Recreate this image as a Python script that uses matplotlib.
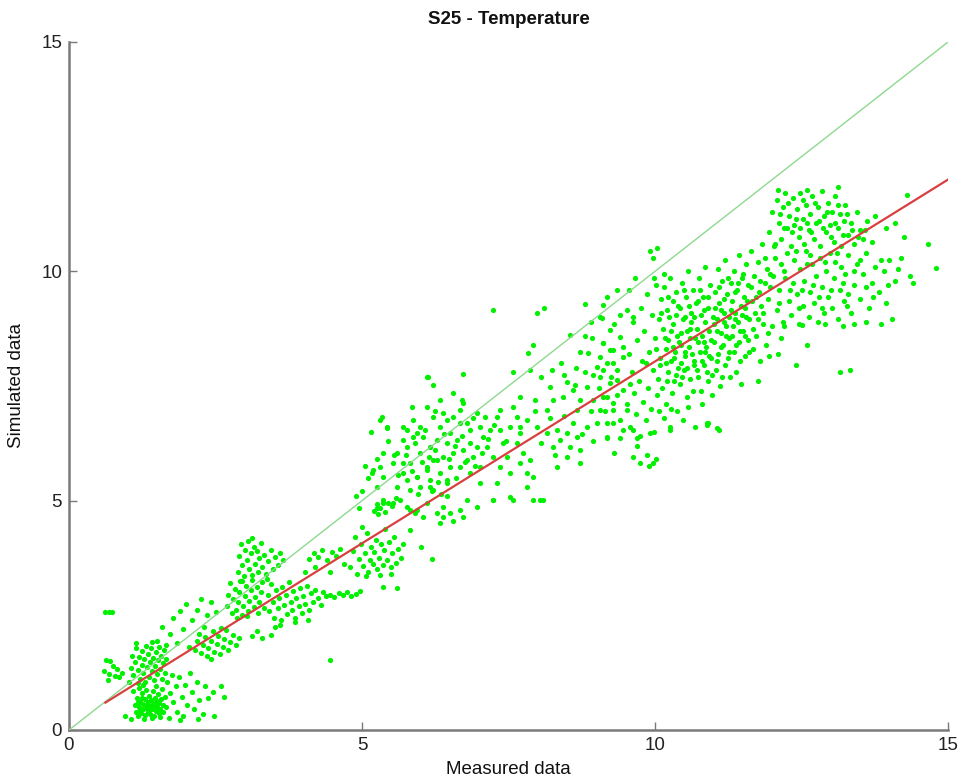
import matplotlib
matplotlib.use("Agg")
import matplotlib.pyplot as plt
import numpy as np

plt.rcParams['font.family'] = ['Liberation Sans', 'DejaVu Sans']

# Measured vs simulated temperature pairs, grouped by region of the range
pts_low = [
    (0.62, 2.58), (0.68, 2.58), (0.74, 2.57), (0.63, 1.53), (0.70, 1.50), (0.75, 1.40),
    (0.60, 1.28), (0.68, 1.22), (0.78, 1.18), (0.86, 1.15), (0.90, 1.25), (0.66, 1.08), (0.82, 1.32),
    (1.02, 1.05), (1.05, 1.35), (1.08, 1.62), (1.10, 1.20), (1.12, 1.48), (1.15, 1.78), (1.17, 1.02),
    (1.18, 1.30), (1.20, 1.60), (1.22, 1.12), (1.24, 1.42), (1.25, 1.72), (1.27, 1.25), (1.28, 1.55),
    (1.30, 1.05), (1.31, 1.83), (1.33, 1.38), (1.35, 1.65), (1.36, 1.15), (1.38, 1.48), (1.40, 1.78),
    (1.41, 1.28), (1.43, 1.58), (1.45, 1.08), (1.46, 1.40), (1.48, 1.70), (1.50, 1.22), (1.52, 1.52),
    (1.53, 1.82), (1.55, 1.32), (1.57, 1.62), (1.58, 1.12), (1.60, 1.45), (1.62, 1.75), (1.64, 1.25),
    (1.14, 1.90), (1.42, 1.92), (1.26, 0.98), (1.48, 0.96), (1.66, 1.55),
    (1.10, 0.85), (1.12, 0.55), (1.14, 0.40), (1.16, 0.70), (1.18, 0.30), (1.19, 0.92), (1.20, 0.50),
    (1.22, 0.62), (1.23, 0.38), (1.25, 0.80), (1.26, 0.45), (1.27, 0.57), (1.29, 0.33), (1.30, 0.68),
    (1.31, 0.88), (1.32, 0.48), (1.34, 0.40), (1.35, 0.60), (1.36, 0.75), (1.38, 0.52), (1.39, 0.35),
    (1.40, 0.66), (1.41, 0.45), (1.43, 0.84), (1.44, 0.56), (1.45, 0.30), (1.46, 0.70), (1.48, 0.42),
    (1.49, 0.62), (1.50, 0.50), (1.52, 0.78), (1.53, 0.36), (1.54, 0.58), (1.56, 0.46), (1.57, 0.68),
    (1.58, 0.90), (1.60, 0.40), (1.61, 0.55), (1.63, 0.72), (1.65, 0.50), (1.28, 0.24), (1.42, 0.26),
    (1.56, 0.28), (1.17, 0.62), (1.33, 0.54), (1.47, 0.52), (1.37, 0.44), (1.24, 0.70), (1.51, 0.64),
    (1.21, 0.44),
    (1.68, 1.05), (1.72, 0.80), (1.75, 1.20), (1.78, 0.62), (1.82, 0.95), (1.85, 0.40), (1.88, 1.15),
    (1.92, 0.72), (1.95, 0.30), (1.98, 0.98), (2.02, 0.55), (2.06, 1.25), (2.10, 0.82), (2.14, 0.45),
    (2.18, 1.05), (2.22, 0.65), (2.28, 0.35), (2.32, 0.95), (2.38, 0.70), (2.45, 0.82), (2.48, 0.30),
    (1.90, 0.22), (2.20, 0.25), (1.70, 0.26), (1.05, 0.24), (0.95, 0.30), (2.60, 0.95), (2.65, 0.72),
    (1.50, 1.95), (1.58, 2.25), (1.65, 1.85), (1.72, 2.10), (1.78, 2.45), (1.85, 1.90), (1.90, 2.60),
    (1.95, 2.20), (2.00, 2.75), (2.05, 1.82), (2.10, 2.40), (2.18, 2.62), (2.25, 2.85), (2.35, 2.50),
    (2.42, 2.78), (2.50, 2.58),
    (2.15, 1.75), (2.18, 1.95), (2.22, 2.10), (2.25, 1.68), (2.28, 1.85), (2.32, 2.02), (2.35, 1.62),
    (2.38, 1.78), (2.42, 1.95), (2.45, 2.15), (2.48, 1.70), (2.52, 1.88), (2.55, 2.05), (2.58, 1.65),
    (2.62, 1.80), (2.65, 1.98), (2.68, 2.18), (2.72, 1.75), (2.75, 1.92), (2.80, 2.08), (2.85, 1.85),
    (2.90, 2.00), (2.42, 1.55), (2.60, 2.22), (2.30, 2.25),
    (3.12, 2.05), (3.30, 2.00), (3.45, 2.08), (3.20, 2.15),
]

pts_mid1 = [
    (2.70, 2.70), (2.72, 2.95), (2.75, 3.20), (2.78, 2.55), (2.80, 2.85), (2.83, 3.08), (2.85, 2.62),
    (2.88, 2.78), (2.90, 3.00), (2.92, 3.25), (2.95, 2.50), (2.97, 2.70), (3.00, 2.92), (3.02, 3.15),
    (3.05, 2.60), (3.08, 2.82), (3.10, 3.05), (3.12, 3.28), (3.15, 2.68), (3.18, 2.90), (3.20, 3.12),
    (3.22, 2.55), (3.25, 2.78), (3.28, 3.00), (3.30, 3.22), (3.33, 2.65), (2.87, 2.45), (3.03, 2.48),
    (2.88, 3.45), (2.90, 3.80), (2.93, 4.05), (2.96, 3.60), (2.98, 3.35), (3.00, 3.92), (3.03, 3.70),
    (3.05, 4.12), (3.08, 3.50), (3.10, 3.85), (3.13, 3.38), (3.15, 4.00), (3.18, 3.62), (3.20, 3.90),
    (3.23, 3.45), (3.25, 3.75), (3.28, 4.08), (3.30, 3.55), (3.33, 3.82), (3.36, 3.40), (3.40, 3.68),
    (3.44, 3.92), (3.48, 3.52), (3.52, 3.78), (3.56, 3.60), (3.60, 3.85), (3.65, 3.70), (3.12, 4.18),
    (2.95, 3.25), (3.38, 3.30),
    (3.40, 2.95), (3.42, 2.60), (3.45, 3.18), (3.48, 2.78), (3.50, 2.45), (3.53, 3.05), (3.56, 2.65),
    (3.58, 2.88), (3.62, 2.40), (3.64, 3.12), (3.67, 2.72), (3.70, 2.95), (3.72, 2.52), (3.75, 3.22),
    (3.78, 2.80), (3.80, 2.62), (3.83, 3.02), (3.86, 2.45), (3.88, 2.88), (3.92, 2.70), (3.95, 3.10),
    (3.98, 2.55), (4.00, 2.92), (4.03, 2.75), (4.06, 3.15), (4.10, 2.62), (4.13, 2.98), (4.17, 2.80),
    (4.20, 3.05), (4.25, 2.88), (4.30, 2.72), (4.34, 3.00), (3.60, 2.30), (3.85, 2.35), (4.08, 2.40),
    (3.52, 2.25),
    (4.38, 2.92), (4.45, 2.95), (4.52, 2.90), (4.60, 2.98), (4.68, 2.94), (4.75, 3.00), (4.82, 2.92),
    (4.90, 2.97), (4.96, 3.02), (4.10, 3.72), (4.18, 3.85), (4.25, 3.78), (4.32, 3.92), (4.40, 3.70),
    (4.48, 3.88), (4.55, 3.80), (4.62, 3.95), (4.20, 3.55), (4.45, 3.45), (4.70, 3.62), (4.02, 3.45),
    (4.45, 1.53),
    (4.80, 3.55), (4.84, 3.90), (4.88, 4.20), (4.92, 3.40), (4.95, 3.72), (4.98, 4.05), (5.02, 3.58),
    (5.05, 3.85), (5.08, 4.30), (5.10, 3.45), (5.13, 3.70), (5.16, 4.00), (5.18, 3.62), (5.21, 3.88),
    (5.24, 4.15), (5.26, 3.50), (5.29, 3.75), (5.32, 4.05), (5.35, 3.60), (5.38, 3.92), (5.40, 4.38),
    (5.43, 3.70), (5.46, 4.10), (5.49, 3.55), (5.52, 3.85), (5.55, 4.20), (5.58, 3.65), (5.62, 3.95),
    (5.66, 3.75), (5.70, 4.05), (5.06, 3.35), (5.30, 3.38), (5.50, 3.40), (5.00, 4.42),
    (5.36, 3.12), (5.60, 3.10), (5.82, 4.36), (6.00, 4.00), (6.20, 3.72),
    (5.20, 4.78), (5.25, 4.92), (5.30, 4.85), (5.35, 5.02), (5.40, 4.75), (5.45, 4.95), (5.52, 4.88),
    (5.58, 5.05), (5.28, 4.70),
]

pts_mid2 = [
    (5.00, 5.20), (5.10, 5.50), (5.25, 5.90), (5.31, 6.76), (5.45, 6.30), (5.55, 6.00), (4.90, 5.10),
    (5.05, 5.75), (5.15, 6.50), (4.95, 4.85), (5.35, 6.05), (5.34, 6.82), (5.43, 6.58), (5.17, 5.60),
    (5.31, 5.73), (5.26, 5.30), (5.19, 5.67), (5.36, 5.52), (5.53, 5.82), (5.60, 6.04), (5.70, 5.82),
    (5.70, 6.32), (5.43, 6.61), (5.77, 6.54), (5.94, 6.47), (5.77, 5.45), (5.94, 5.52), (5.60, 5.30),
    (6.11, 5.67), (6.28, 5.89), (6.16, 5.30), (6.45, 5.45), (5.53, 4.94), (5.36, 4.94), (5.26, 4.83),
    (5.70, 6.61), (5.87, 6.39), (5.77, 6.17), (5.99, 6.04), (5.82, 5.82), (5.70, 5.60), (5.94, 5.52),
    (6.11, 5.73), (6.21, 5.89), (6.16, 6.17), (6.04, 6.39), (6.28, 6.32), (6.33, 6.61), (6.45, 6.76),
    (6.38, 6.91), (6.55, 6.82), (6.67, 6.98), (6.67, 6.69), (6.79, 6.69), (6.84, 6.54), (6.50, 6.47),
    (6.62, 6.32), (6.45, 6.26), (6.55, 6.04), (6.72, 6.10), (6.38, 5.95), (6.79, 5.89), (6.89, 5.95),
    (6.50, 5.73), (6.67, 5.73), (6.84, 5.60), (6.33, 5.60), (6.16, 5.45), (5.99, 5.30), (5.82, 5.23),
    (6.21, 5.23), (6.45, 5.38), (7.01, 5.73), (6.96, 6.17), (7.07, 6.39), (5.99, 6.61), (5.87, 6.76),
    (6.21, 6.82), (6.11, 7.04), (6.72, 7.13), (6.96, 6.91),
    (6.13, 7.70), (6.72, 7.76), (6.21, 7.52), (5.85, 7.04), (6.33, 7.19), (6.71, 7.19), (6.11, 7.70),
    (5.65, 5.01), (5.77, 4.86), (5.94, 4.79), (6.11, 4.94), (6.28, 4.73), (6.04, 4.64), (6.38, 4.64),
    (6.50, 4.73), (6.38, 4.86), (6.72, 4.64), (6.67, 4.79), (6.96, 4.86), (6.79, 5.01), (6.33, 4.51),
    (6.55, 4.55), (5.82, 4.80), (5.90, 4.73), (6.20, 5.20), (6.45, 5.10),
    (7.01, 6.61), (7.10, 6.82), (7.13, 6.17), (7.01, 5.38), (7.24, 5.01),
    (5.62, 5.55), (5.75, 6.00), (5.85, 5.65), (5.90, 6.25), (6.02, 5.85), (6.08, 6.55), (6.15, 5.95),
    (6.25, 6.10), (6.30, 5.40), (6.40, 6.45), (6.48, 5.90), (6.58, 6.20), (6.60, 5.50), (6.70, 6.40),
    (6.75, 5.85), (6.85, 6.25), (6.92, 5.75), (7.05, 6.05), (7.15, 6.35), (7.25, 6.65), (6.25, 6.95),
    (6.55, 7.35), (5.95, 5.15), (6.35, 5.15), (6.90, 6.80), (7.40, 6.25),
]

pts_mid3 = [
    (7.24, 9.16), (7.99, 9.09), (8.11, 9.20), (8.81, 9.29), (9.11, 9.27), (9.09, 8.98),
    (7.92, 8.39), (7.83, 8.22), (7.87, 7.85), (7.58, 7.80), (8.55, 8.61), (8.92, 8.55), (8.72, 8.24),
    (8.86, 8.22), (9.11, 8.44), (9.23, 8.28), (9.06, 8.13), (8.50, 7.59), (8.63, 7.52), (8.84, 7.48),
    (9.01, 7.91), (9.11, 7.85), (9.28, 8.00), (9.35, 7.63), (8.81, 7.80), (8.60, 7.41), (8.43, 7.26),
    (8.72, 7.19), (8.94, 7.19), (9.18, 7.26), (9.06, 6.98), (9.28, 6.98), (8.67, 6.98), (8.21, 7.48),
    (8.26, 7.19), (8.16, 6.98), (7.70, 7.26), (7.58, 7.04), (7.64, 6.82), (7.81, 6.76), (7.36, 6.98),
    (7.30, 6.82), (7.18, 6.54), (7.36, 6.54), (7.53, 6.61), (7.70, 6.47), (7.99, 6.61), (8.16, 6.47),
    (8.33, 6.54), (8.50, 6.47), (8.67, 6.39), (8.84, 6.61), (9.01, 6.69), (9.18, 6.39), (9.28, 6.69),
    (8.38, 6.32), (8.55, 6.17), (8.72, 6.10), (8.26, 6.17), (8.50, 5.95), (8.72, 5.82), (8.33, 5.73),
    (7.64, 6.26), (7.75, 6.04), (7.70, 5.82), (7.87, 5.89), (7.53, 5.60), (7.36, 5.73), (7.47, 5.95),
    (7.24, 5.95), (7.92, 5.52), (7.81, 5.60), (7.92, 5.01), (8.04, 5.01), (8.09, 5.01), (7.58, 5.01),
    (7.53, 5.08), (7.81, 5.30), (7.30, 5.38), (7.24, 5.01),
    (9.18, 9.44), (9.35, 9.59), (9.52, 9.16), (9.06, 9.00), (9.23, 8.72), (9.40, 8.57), (9.62, 9.00),
    (9.11, 8.44), (9.28, 8.28), (9.45, 8.13), (9.18, 8.00), (9.35, 7.85), (9.06, 7.70), (9.23, 7.56),
    (9.45, 7.41), (9.11, 7.26), (9.28, 7.13), (9.52, 6.98), (9.18, 6.69), (9.40, 6.76), (9.62, 6.54),
    (9.18, 6.37), (9.40, 6.37), (9.69, 6.37), (9.91, 6.47), (9.74, 5.82), (9.97, 5.82), (9.86, 6.00),
    (10.26, 6.54), (10.89, 6.69), (11.06, 6.58), (8.90, 8.90), (8.40, 8.00), (8.05, 7.70), (7.95, 7.20),
    (8.05, 6.25), (8.20, 6.80), (8.30, 6.00), (8.45, 6.85), (8.60, 6.70), (8.75, 6.45), (8.90, 6.95),
    (8.95, 6.30), (9.05, 7.45), (9.15, 6.95), (9.25, 7.70), (9.35, 7.30), (9.45, 8.35), (9.40, 9.05),
    (9.30, 8.85), (8.80, 8.60), (8.65, 7.90), (8.95, 7.75), (8.45, 7.75), (8.25, 7.85), (7.95, 6.95),
    (7.70, 6.60), (7.45, 6.30), (9.45, 6.55), (9.30, 6.05),
]

pts_core = [
    (9.52, 7.10), (9.55, 8.20), (9.58, 6.60), (9.60, 7.80), (9.62, 8.90), (9.63, 5.95), (9.65, 7.35),
    (9.68, 6.90), (9.70, 8.50), (9.72, 7.60), (9.74, 6.40), (9.76, 9.20), (9.78, 8.05), (9.80, 7.15),
    (9.55, 9.60), (9.66, 9.85), (9.58, 7.55), (9.70, 6.20),
    (9.82, 8.70), (9.84, 6.75), (9.86, 9.50), (9.88, 7.45), (9.90, 5.75), (9.90, 8.25), (9.92, 10.45),
    (9.93, 7.00), (9.95, 9.05), (9.96, 10.30), (9.97, 7.85), (9.99, 6.50), (10.00, 8.55), (10.01, 5.90),
    (10.02, 9.70), (10.03, 10.50), (10.04, 7.30), (10.06, 8.95), (10.07, 6.95), (10.08, 8.10),
    (10.10, 9.40), (9.85, 8.00), (9.98, 9.85), (10.05, 7.65),
    (10.12, 7.45), (10.13, 8.75), (10.15, 6.80), (10.16, 9.65), (10.18, 8.30), (10.19, 7.10),
    (10.20, 9.15), (10.22, 7.80), (10.23, 8.50), (10.25, 6.60), (10.26, 9.85), (10.27, 8.05),
    (10.29, 7.35), (10.30, 9.35), (10.31, 8.85), (10.33, 7.60), (10.34, 8.25), (10.36, 9.55),
    (10.37, 6.95), (10.38, 8.60), (10.40, 7.90), (10.15, 9.95), (10.24, 9.00), (10.35, 9.05),
    (10.28, 7.00), (10.18, 8.00),
    (10.42, 9.20), (10.43, 7.55), (10.44, 8.40), (10.46, 9.75), (10.47, 6.75), (10.48, 8.95),
    (10.50, 7.85), (10.51, 8.15), (10.53, 9.45), (10.54, 7.25), (10.55, 8.70), (10.57, 10.00),
    (10.58, 8.35), (10.60, 7.65), (10.61, 9.10), (10.62, 8.90), (10.64, 7.40), (10.65, 9.60),
    (10.66, 8.05), (10.68, 8.55), (10.69, 6.60), (10.70, 9.30), (10.45, 8.00), (10.52, 9.00),
    (10.59, 8.55), (10.67, 7.95), (10.56, 7.05),
    (10.72, 8.75), (10.73, 7.70), (10.75, 9.85), (10.76, 8.25), (10.78, 9.05), (10.79, 7.40),
    (10.80, 8.60), (10.82, 9.45), (10.83, 7.95), (10.85, 8.90), (10.86, 10.10), (10.87, 8.35),
    (10.89, 6.65), (10.90, 9.20), (10.91, 7.60), (10.93, 8.70), (10.94, 9.70), (10.96, 8.10),
    (10.97, 7.30), (10.99, 9.00), (10.74, 9.35), (10.84, 8.45), (10.92, 8.15), (10.81, 7.10),
    (11.01, 8.45), (11.02, 9.55), (11.04, 7.85), (11.05, 8.95), (11.07, 10.05), (11.08, 8.20),
    (11.10, 9.30), (11.11, 7.50), (11.13, 8.65), (11.14, 9.80), (11.16, 8.40), (11.17, 9.10),
    (11.19, 7.95), (11.20, 10.25), (11.22, 8.80), (11.23, 9.50), (11.25, 8.10), (11.26, 9.00),
    (11.28, 7.70), (11.29, 9.75), (11.06, 8.70), (11.18, 8.90), (11.27, 8.55), (11.12, 9.15),
    (11.31, 8.60), (11.32, 9.35), (11.34, 10.00), (11.35, 8.25), (11.37, 9.10), (11.38, 7.80),
    (11.40, 9.60), (11.41, 8.90), (11.43, 10.35), (11.44, 8.45), (11.46, 9.25), (11.47, 7.55),
    (11.49, 9.85), (11.50, 8.70), (11.52, 9.45), (11.53, 8.15), (11.55, 10.15), (11.56, 9.00),
    (11.58, 8.50), (11.59, 9.70), (11.36, 8.95), (11.45, 8.70), (11.54, 9.20),
    (11.61, 8.95), (11.63, 10.45), (11.65, 9.35), (11.67, 8.30), (11.69, 9.90), (11.71, 9.10),
    (11.73, 8.60), (11.75, 10.20), (11.77, 9.55), (11.79, 8.05), (11.81, 9.25), (11.83, 10.60),
    (11.85, 8.85), (11.87, 9.75), (11.89, 8.40), (11.91, 10.05), (11.93, 9.40), (11.95, 8.15),
    (11.97, 9.95), (11.99, 8.80),
    (10.02, 8.30), (10.09, 7.95), (10.11, 9.10), (10.17, 8.55), (10.21, 7.60), (10.23, 9.45),
    (10.27, 8.70), (10.32, 8.10), (10.35, 7.75), (10.39, 9.25), (10.41, 8.45), (10.46, 7.70),
    (10.49, 9.60), (10.52, 8.25), (10.55, 7.90), (10.58, 9.25), (10.63, 8.20), (10.66, 9.00),
    (10.71, 7.85), (10.73, 8.45), (10.77, 9.60), (10.80, 8.05), (10.84, 9.15), (10.88, 7.80),
    (10.91, 9.45), (10.95, 8.50), (10.98, 7.75), (11.03, 9.20), (11.06, 8.05), (11.09, 9.65),
    (11.12, 8.35), (11.15, 7.70), (11.18, 9.40), (11.21, 8.60), (11.24, 9.85), (11.27, 8.25),
    (11.30, 9.15), (11.33, 8.80), (11.36, 9.55), (11.39, 8.40), (11.42, 9.75), (11.45, 8.05),
    (11.48, 9.05), (11.51, 9.95), (11.54, 8.60), (11.57, 9.35), (11.60, 8.25), (11.64, 9.65),
    (11.68, 8.75), (11.72, 9.45), (11.76, 8.95), (11.80, 9.80), (11.84, 9.10), (11.88, 10.30),
    (11.92, 8.65), (11.96, 9.65), (10.60, 8.75), (10.45, 8.65), (10.30, 8.35), (10.85, 8.25),
    (11.00, 8.85),
]

pts_high = [
    (11.95, 10.85), (12.00, 11.30), (12.05, 10.60), (12.08, 11.55), (12.12, 11.05), (12.15, 10.70),
    (12.18, 11.40), (12.22, 11.70), (12.25, 10.95), (12.28, 11.20), (12.32, 10.55), (12.35, 11.60),
    (12.38, 11.00), (12.42, 11.35), (12.45, 10.75), (12.48, 11.70), (12.52, 11.15), (12.55, 10.60),
    (12.58, 11.45), (12.62, 10.90), (12.65, 11.25), (12.68, 11.65), (12.72, 10.70), (12.75, 11.05),
    (12.78, 11.40), (12.82, 10.55), (12.85, 11.75), (12.88, 11.20), (12.92, 10.85), (12.95, 11.50),
    (12.98, 11.00), (13.02, 11.30), (13.05, 10.65), (13.08, 11.65), (13.12, 10.95), (13.15, 11.25),
    (13.18, 10.55), (13.22, 11.10), (13.25, 11.45), (13.30, 10.80), (13.35, 11.05), (13.40, 10.60),
    (13.45, 11.30), (13.50, 10.90), (13.55, 10.70), (13.62, 11.10), (13.70, 10.65), (12.10, 11.78),
    (12.60, 11.78), (13.12, 11.84),
    (12.02, 9.90), (12.05, 10.30), (12.08, 9.15), (12.12, 9.60), (12.15, 10.15), (12.18, 8.90),
    (12.22, 9.85), (12.25, 10.40), (12.28, 9.35), (12.32, 9.05), (12.35, 9.75), (12.38, 10.25),
    (12.42, 9.50), (12.45, 8.85), (12.48, 10.05), (12.52, 9.25), (12.55, 9.80), (12.58, 10.45),
    (12.62, 9.00), (12.65, 9.55), (12.68, 10.15), (12.72, 9.30), (12.75, 9.90), (12.78, 8.90),
    (12.82, 10.30), (12.85, 9.65), (12.88, 9.10), (12.92, 10.00), (12.95, 9.45), (12.98, 10.40),
    (13.02, 9.20), (13.05, 9.85), (13.08, 10.20), (13.12, 8.95), (13.15, 9.60), (13.18, 10.10),
    (13.22, 9.35), (13.25, 9.95), (13.30, 10.35), (13.35, 9.10), (13.40, 9.70), (13.45, 10.15),
    (13.50, 9.40), (13.55, 9.95), (13.60, 10.40), (13.65, 9.20), (13.70, 9.75), (13.75, 10.10),
    (13.82, 9.55), (13.90, 10.00), (13.95, 9.30), (14.00, 10.25), (14.10, 9.80), (14.20, 10.30),
    (14.35, 9.90), (14.40, 9.75), (12.20, 8.80), (12.50, 8.82), (12.90, 8.85), (13.20, 8.80),
    (13.40, 8.85), (13.60, 8.90), (13.85, 8.85), (14.05, 8.95),
    (14.30, 11.66), (14.66, 10.60), (14.80, 10.07), (14.25, 10.75), (13.95, 10.95), (13.75, 11.20),
    (14.10, 11.05), (13.16, 7.80), (13.33, 7.85), (12.60, 8.40), (12.10, 8.20), (12.40, 7.95),
    (12.15, 8.55), (11.75, 7.60), (11.10, 6.55), (10.90, 6.70),
    (12.03, 10.55), (12.13, 11.25), (12.20, 10.95), (12.27, 11.50), (12.33, 10.85), (12.40, 11.15),
    (12.47, 10.95), (12.53, 11.55), (12.60, 11.05), (12.67, 10.85), (12.73, 11.50), (12.80, 11.10),
    (12.87, 10.95), (12.93, 11.30), (13.00, 10.75), (13.07, 11.05), (13.13, 11.45), (13.20, 10.80),
    (13.28, 11.25), (13.37, 10.90), (13.47, 10.75), (13.58, 10.90),
    (12.12, 9.30), (12.20, 10.00), (12.30, 9.60), (12.40, 10.45), (12.50, 9.60), (12.60, 10.15),
    (12.70, 9.70), (12.80, 9.45), (12.90, 10.20), (13.00, 9.60), (13.10, 10.40), (13.20, 9.75),
    (13.30, 9.50), (13.40, 10.00), (13.50, 10.25), (13.60, 9.65), (13.72, 9.45), (13.85, 10.25),
    (13.98, 9.70), (14.15, 10.05), (12.45, 9.20), (12.85, 9.20), (13.28, 9.25), (12.65, 10.35),
]

# Linear fit of simulated on measured (slope, intercept) and its x-range
fit_slope = 0.793
fit_intercept = 0.105
fit_range = (0.62, 15.0)
axis_limits = (0, 15)
tick_values = [0, 5, 10, 15]

all_pts = np.array(pts_low + pts_mid1 + pts_mid2 + pts_mid3 + pts_core + pts_high)
measured = all_pts[:, 0]
simulated = all_pts[:, 1]

fig = plt.figure(figsize=(9.65, 7.84), dpi=100)
ax = fig.add_axes([69 / 965, 54 / 784, 879 / 965, 688 / 784])

ax.scatter(measured, simulated, s=14, color='#00f000', linewidths=0, zorder=2)

# 1:1 reference line
ax.plot(axis_limits, axis_limits, color='#8fd88f', linewidth=1.0, zorder=3)

# fitted regression line
fx = np.array(fit_range)
ax.plot(fx, fit_slope * fx + fit_intercept, color='#d84040', linewidth=1.6, zorder=4)

ax.set_xlim(axis_limits)
ax.set_ylim(axis_limits)
ax.set_xticks(tick_values)
ax.set_yticks(tick_values)

for side in ('top', 'right'):
    ax.spines[side].set_visible(False)
for side in ('left', 'bottom'):
    ax.spines[side].set_color('#7a7a7a')
    ax.spines[side].set_linewidth(1.8)

ax.tick_params(direction='in', length=6, width=1, color='#7a7a7a',
               labelsize=13.5, labelcolor='#222222', pad=5)

ax.set_title('S25 - Temperature', fontsize=13.5, fontweight='bold', pad=13, color='#111111')
ax.set_xlabel('Measured data', fontsize=13.5, labelpad=5, color='#111111')
ax.set_ylabel('Simulated data', fontsize=13.5, labelpad=12, color='#111111')

fig.savefig('out.png', dpi=100)
